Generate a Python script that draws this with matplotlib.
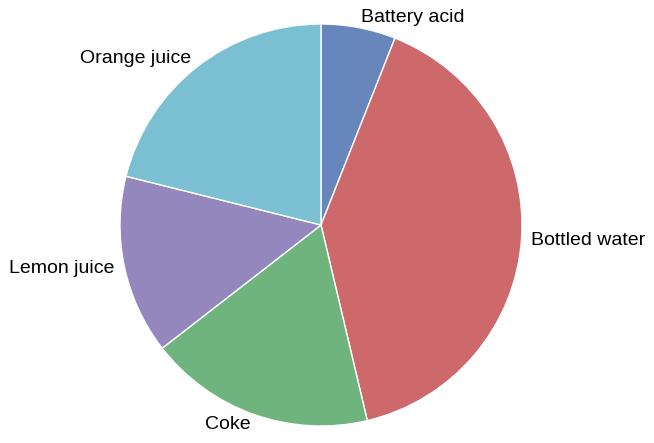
import matplotlib
matplotlib.use("Agg")
import matplotlib.pyplot as plt

# drinks and their share
labels = ["Battery acid", "Bottled water", "Coke", "Lemon juice", "Orange juice"]
shares = [6.0, 40.3, 18.2, 14.4, 21.1]
colors = ["#6787BC", "#CD686B", "#6FB47E", "#9487BD", "#7BBFD2"]

plt.rcParams["font.family"] = ["Liberation Sans", "DejaVu Sans"]

fig = plt.figure(figsize=(6.54, 4.43), dpi=100)
ax = fig.add_axes([0, 0, 1, 1])

ax.pie(
    shares,
    labels=labels,
    colors=colors,
    startangle=90,
    counterclock=False,
    labeldistance=1.05,
    radius=1.0,
    wedgeprops={"edgecolor": "white", "linewidth": 1},
    textprops={"fontsize": 14},
)

# 1 unit = 201 px, centre at (321, 225) from top-left
s = 201.0
ax.set_xlim(-321 / s, (654 - 321) / s)
ax.set_ylim(-(443 - 225) / s, 225 / s)
ax.axis("off")

fig.savefig("out.png", dpi=100)
